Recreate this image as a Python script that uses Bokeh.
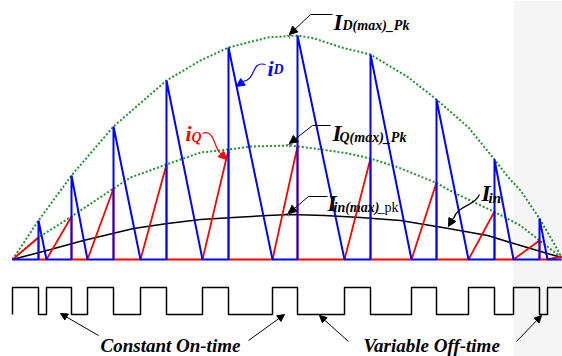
from bokeh.plotting import figure
from bokeh.models import Range1d, Arrow, NormalHead, BoxAnnotation
from bokeh.core.properties import value
from bokeh.embed import file_html
from bokeh.resources import INLINE

# ---------------- data (time in arbitrary units, current in arbitrary units) ----------------
T_ON_START = [0, 34, 75, 128, 190, 260, 332, 399, 456, 501, 535]
T_OFF = [26, 59, 101, 154, 216, 285, 358, 424, 482, 527]
T_END = 549
IQ_PEAK = [22, 43, 71, 95, 110, 113, 101, 77, 48, 19]
ID_PEAK = [39, 84, 133, 179, 212, 224, 205, 160, 100, 41]
IQ_LAST = 3

ENV_D_T = [0, 26, 59, 101, 154, 188, 216, 255, 285, 302, 329, 358, 396, 424, 456, 482, 496, 508, 527, 541, 549]
ENV_D_I = [0, 39, 84, 133, 179, 199, 212, 222, 224, 221, 212, 205, 182, 160, 132, 100, 82, 69, 41, 17, 2]

ENV_Q_T = [0, 26, 59, 101, 118, 154, 188, 216, 238, 277, 302, 336, 358, 386, 423, 441, 481, 508, 527, 549]
ENV_Q_I = [0, 22, 43, 71, 82, 95, 107, 110, 113, 114, 111, 106, 101, 92, 77, 67, 48, 34, 19, 2]

IIN_T = [0, 38, 71, 121, 155, 188, 221, 255, 278, 312, 348, 388, 436, 475, 508, 535, 549]
IIN_I = [0, 10, 19, 31, 36, 40, 42, 44, 45, 44, 42, 39, 31, 24, 14, 6, 2]

GATE_HIGH = -28
GATE_LOW = -55
GATE_END = 550

# ---------------- waveforms built from the data ----------------
iq_t, iq_i = [], []
for k in range(len(T_OFF)):
    iq_t += [T_ON_START[k], T_OFF[k], T_OFF[k]]
    iq_i += [0, IQ_PEAK[k], 0]
iq_t += [T_ON_START[-1], T_END]
iq_i += [0, IQ_LAST]

id_t, id_i = [0], [0]
for k in range(len(T_OFF)):
    id_t += [T_OFF[k], T_OFF[k], T_ON_START[k + 1]]
    id_i += [0, ID_PEAK[k], 0]
id_t += [T_END]
id_i += [0]

g_t, g_v = [], []
for k in range(len(T_OFF)):
    g_t += [T_ON_START[k], T_ON_START[k], T_OFF[k], T_OFF[k]]
    g_v += [GATE_LOW, GATE_HIGH, GATE_HIGH, GATE_LOW]
g_t += [T_ON_START[-1], T_ON_START[-1], GATE_END]
g_v += [GATE_LOW, GATE_HIGH, GATE_HIGH]

# ---------------- figure ----------------
p = figure(width=562, height=356, x_range=Range1d(-12, 550), y_range=Range1d(-97, 259),
           output_backend="svg", toolbar_location=None, x_axis_type=None, y_axis_type=None,
           min_border=0, min_border_left=0, min_border_right=0, min_border_top=0, min_border_bottom=0)
p.outline_line_color = None
p.background_fill_color = "white"
p.border_fill_color = "white"

p.add_layout(BoxAnnotation(left=501, fill_color="#f5f5f5", fill_alpha=1, line_color=None, level="underlay"))

GREEN = "#22922a"
BLUE = "#0000ff"
RED = "#ff0000"
SERIF = value("Liberation Serif")

p.line(ENV_D_T, ENV_D_I, line_color=GREEN, line_width=2, line_dash="2 2")
p.line(ENV_Q_T, ENV_Q_I, line_color=GREEN, line_width=2, line_dash="2 2")
p.line(IIN_T, IIN_I, line_color="black", line_width=1.6)
p.line(iq_t, iq_i, line_color=RED, line_width=1.8)
p.line(id_t, id_i, line_color=BLUE, line_width=2)
p.line(g_t, g_v, line_color="black", line_width=1.5)

# peak marks
p.scatter([277, 277, 276], [224, 115, 46], marker="cross", size=6, line_color="#808080", line_width=1)

def arrow(x0, y0, x1, y1, color="black", size=8, width=1):
    p.add_layout(Arrow(end=NormalHead(size=size, fill_color=color, line_color=color),
                       x_start=x0, y_start=y0, x_end=x1, y_end=y1,
                       line_color=color, line_width=width))

# leader lines for peak labels
p.segment([298, 300, 296], [245, 134, 63], [320, 318, 315], [245, 134, 63], line_color="black", line_width=1)
arrow(298, 245, 277, 225)
arrow(300, 134, 277, 116)
arrow(296, 63, 276, 46)

# curved leaders
p.bezier(x0=[253], y0=[195], cx0=[238], cy0=[199], cx1=[244], cy1=[179], x1=[230], y1=[178],
         line_color=BLUE, line_width=1.2)
arrow(231, 178, 224, 173, color=BLUE)
p.bezier(x0=[190], y0=[126], cx0=[202], cy0=[131], cx1=[202], cy1=[111], x1=[207], y1=[107],
         line_color=RED, line_width=1.2)
arrow(207, 107, 214, 100, color=RED)
p.bezier(x0=[467], y0=[65], cx0=[462], cy0=[53], cx1=[446], cy1=[55], x1=[441], y1=[41],
         line_color="black", line_width=1.2)
arrow(441, 42, 436, 33)

# bottom arrows
arrow(86, -76, 48, -54, size=7)
arrow(236, -81, 272, -55, size=7)
arrow(336, -82, 307, -56, size=7)
arrow(504, -82, 529, -56, size=7)

def txt(x, y, s, size, color="black", style="bold italic"):
    p.text(x=[x], y=[y], text=[s], text_font=SERIF, text_font_style=style,
           text_font_size=size, text_color=color, text_baseline="alphabetic", text_align="left")

# labels
txt(321, 237, "I", "23px")
txt(330, 234, "D(max)_Pk", "14px")
txt(320, 126, "I", "23px")
txt(327, 122, "Q(max)_Pk", "14px")
txt(315, 56, "I", "23px")
txt(321, 52, "in(max)", "14px")
txt(365, 52, "_pk", "14px", style="normal")
txt(469, 66, "I", "23px")
txt(476, 62, "in", "15px")
txt(255, 191, "i", "22px", color=BLUE)
txt(261, 190, "D", "14px", color=BLUE)
txt(173, 126, "i", "22px", color=RED)
txt(179, 122, "Q", "14px", color=RED)

txt(88, -86, "Constant On-time", "19px")
txt(351, -86, "Variable Off-time", "19px")

open("out.html", "w").write(file_html(p, INLINE))
